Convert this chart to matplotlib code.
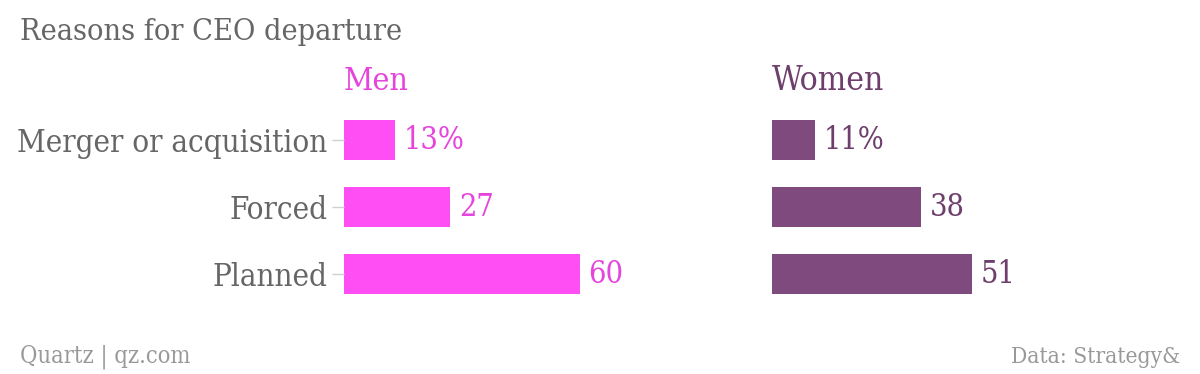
import matplotlib.pyplot as plt
from matplotlib.font_manager import FontProperties

# data
categories = ["Merger or acquisition", "Forced", "Planned"]
men = [13, 27, 60]
women = [11, 38, 51]
men_labels = ["13%", "27", "60"]
women_labels = ["11%", "38", "51"]

men_color = "#ff4ff4"
men_text = "#e545dc"
women_color = "#7f4a7d"
women_text = "#6e3f6c"
grey = "#666666"


def fp(size):
    return FontProperties(family="DejaVu Serif", stretch="condensed", size=size)


W, H = 1200, 374
fig = plt.figure(figsize=(W / 100, H / 100), dpi=100)
fig.patch.set_facecolor("white")


def px_axes(left, top, width, height):
    return fig.add_axes([left / W, (H - top - height) / H, width / W, height / H])


ax_m = px_axes(344, 106.5, 393, 201)
ax_w = px_axes(772, 106.5, 393, 201)

for ax, vals, labels, col, tcol in [
    (ax_m, men, men_labels, men_color, men_text),
    (ax_w, women, women_labels, women_color, women_text),
]:
    y = range(len(categories))
    ax.barh(y, vals, height=0.6, color=col)
    ax.set_xlim(0, 100)
    ax.set_ylim(2.5, -0.5)
    for i, (v, lab) in enumerate(zip(vals, labels)):
        ax.text(v + 2.2, i + 0.01, lab, color=tcol, fontproperties=fp(22),
                va="center", ha="left")
    ax.set_xticks([])
    for s in ax.spines.values():
        s.set_visible(False)
    ax.set_facecolor("none")

ax_m.set_yticks(range(len(categories)))
ax_m.set_yticklabels(categories, fontproperties=fp(22.5), color=grey)
ax_m.tick_params(axis="y", length=9, width=1, color="#d0d0d0", pad=3)
ax_w.set_yticks([])

fig.text(344 / W, 1 - 81 / H, "Men", color=men_text, fontproperties=fp(23),
         va="center", ha="left")
fig.text(772 / W, 1 - 81 / H, "Women", color=women_text, fontproperties=fp(24),
         va="center", ha="left")

fig.text(20 / W, 1 - 32 / H, "Reasons for CEO departure", color=grey,
         fontproperties=fp(21.9), va="center", ha="left")
fig.text(20 / W, 1 - 357 / H, "Quartz | qz.com", color="#999999",
         fontproperties=fp(17), va="center", ha="left")
fig.text(1180 / W, 1 - 357 / H, "Data: Strategy&", color="#999999",
         fontproperties=fp(16.3), va="center", ha="right")

fig.savefig("out.png", dpi=100)
